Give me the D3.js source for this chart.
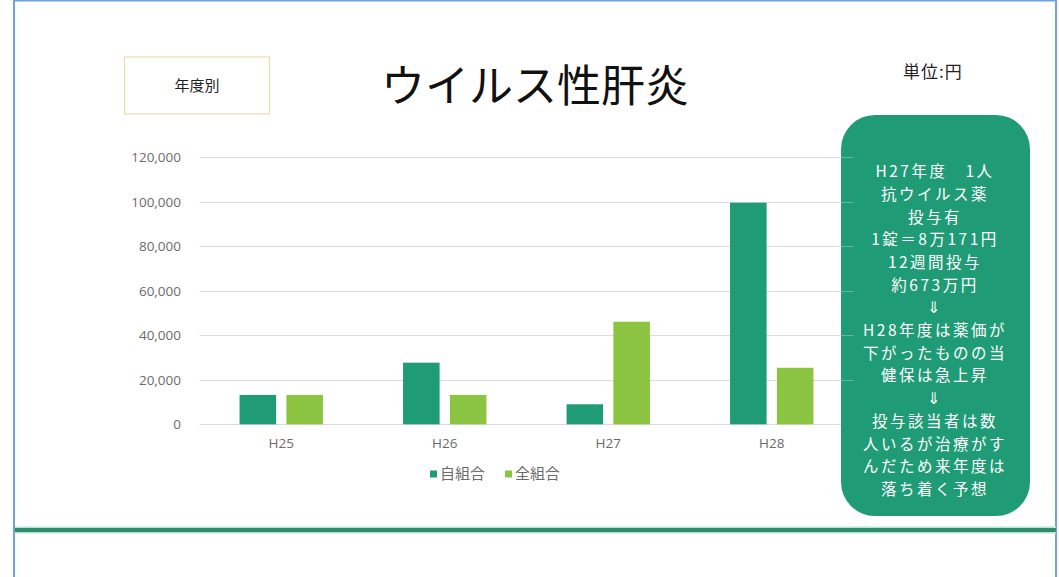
<!DOCTYPE html>
<html lang="ja">
<head>
<meta charset="utf-8">
<script src="https://cdn.jsdelivr.net/npm/d3@7"></script>
<style>
  html, body { margin: 0; padding: 0; background: #ffffff; }
  svg { display: block; }
</style>
</head>
<body>
<svg id="chart" width="1059" height="577"></svg>
<script>
// Fiscal years and per-person medical cost for viral hepatitis (yen)
const years = ["H25", "H26", "H27", "H28"];
const ownUnion = [13200, 27700, 9000, 99600];   // 自組合
const allUnions = [13200, 13200, 46100, 25400]; // 全組合
const seriesNames = ["自組合", "全組合"];
const yTicks = [0, 20000, 40000, 60000, 80000, 100000, 120000];
const noteLines = [
  "H27年度　1人",
  "抗ウイルス薬",
  "投与有",
  "1錠＝8万171円",
  "12週間投与",
  "約673万円",
  "⇓",
  "H28年度は薬価が",
  "下がったものの当",
  "健保は急上昇",
  "⇓",
  "投与該当者は数",
  "人いるが治療がす",
  "んだため来年度は",
  "落ち着く予想"
];

const colors = { "自組合": "#1f9b76", "全組合": "#8bc440" };
const jpFont = "'Noto Sans CJK JP', 'Noto Sans', sans-serif";
const numFont = "'Open Sans', 'Noto Sans', 'DejaVu Sans', sans-serif";

const svg = d3.select("#chart");

// Slide frame
svg.append("rect")
  .attr("x", 14).attr("y", 0.5).attr("width", 1042).attr("height", 590)
  .attr("fill", "none").attr("stroke", "#6ea3e0").attr("stroke-width", 2);

// Horizontal green rule
svg.append("rect").attr("x", 15).attr("y", 526.5).attr("width", 1041).attr("height", 7).attr("fill", "#b7e3d2");
svg.append("rect").attr("x", 15).attr("y", 528).attr("width", 1041).attr("height", 4).attr("fill", "#2f8d6f");

// Plot area
const plot = { left: 199.5, right: 853.5, top: 157.3, bottom: 424.3 };

const x0 = d3.scaleBand().domain(years).range([plot.left, plot.right]).paddingInner(0.49).paddingOuter(0.245);
const x1 = d3.scaleBand().domain(seriesNames).range([0, x0.bandwidth()]).paddingInner(0.22);
const y = d3.scaleLinear().domain([0, 120000]).range([plot.bottom, plot.top]);

// Gridlines
const grid = svg.append("g");
grid.selectAll("line").data(yTicks).join("line")
  .attr("x1", plot.left).attr("x2", plot.right)
  .attr("y1", d => Math.round(y(d)) + 0.5).attr("y2", d => Math.round(y(d)) + 0.5)
  .attr("stroke", "#dcdcdc").attr("stroke-width", 1);

// Y axis labels
const yAxis = d3.axisLeft(y).tickValues(yTicks).tickFormat(d3.format(",")).tickSize(0).tickPadding(0);
const yg = svg.append("g").attr("transform", `translate(${181},0)`).call(yAxis);
yg.select(".domain").remove();
yg.selectAll("text").attr("font-family", numFont).attr("font-size", 13.5).attr("fill", "#6b6b6b");

// X axis labels
const xAxis = d3.axisBottom(x0).tickSize(0).tickPadding(0);
const xg = svg.append("g").attr("transform", `translate(0,${438})`).call(xAxis);
xg.select(".domain").remove();
xg.selectAll("text").attr("font-family", numFont).attr("font-size", 13.5).attr("fill", "#6b6b6b");

// Bars
const rows = years.map((yr, i) => ({ year: yr, values: [
  { name: seriesNames[0], value: ownUnion[i] },
  { name: seriesNames[1], value: allUnions[i] }
]}));
const groups = svg.append("g").selectAll("g").data(rows).join("g")
  .attr("transform", d => `translate(${x0(d.year)},0)`);
groups.selectAll("rect").data(d => d.values).join("rect")
  .attr("x", d => x1(d.name))
  .attr("width", x1.bandwidth())
  .attr("y", d => y(d.value))
  .attr("height", d => y(0) - y(d.value))
  .attr("fill", d => colors[d.name]);

// Legend
const legend = svg.append("g").attr("transform", "translate(430,474)");
const legendX = [0, 75];
seriesNames.forEach((name, i) => {
  const g = legend.append("g").attr("transform", `translate(${legendX[i]},0)`);
  g.append("rect").attr("x", 0).attr("y", -3.5).attr("width", 7).attr("height", 7).attr("fill", colors[name]);
  g.append("text").attr("x", 10).attr("y", 0).attr("dy", "0.35em")
    .attr("font-family", jpFont).attr("font-size", 15).attr("fill", "#6b6b6b").text(name);
});

// Title
svg.append("text").attr("x", 535).attr("y", 87).attr("dy", "0.35em").attr("text-anchor", "middle")
  .attr("font-family", jpFont).attr("font-size", 44).attr("fill", "#111").text("ウイルス性肝炎");

// Category tag
svg.append("rect").attr("x", 124.5).attr("y", 57).attr("width", 145).attr("height", 57)
  .attr("fill", "#fff").attr("stroke", "#e9dcae").attr("stroke-width", 1.2);
svg.append("text").attr("x", 197).attr("y", 86).attr("dy", "0.35em").attr("text-anchor", "middle")
  .attr("font-family", jpFont).attr("font-size", 15).attr("fill", "#222").text("年度別");

// Unit
svg.append("text").attr("x", 903).attr("y", 72).attr("dy", "0.35em")
  .attr("font-family", jpFont).attr("font-size", 17).attr("letter-spacing", 1).attr("fill", "#222").text("単位:円");

// Note box
svg.append("rect").attr("x", 841).attr("y", 115).attr("width", 189).attr("height", 401)
  .attr("rx", 34).attr("ry", 34).attr("fill", "#1f9b76");

// Gridlines faintly visible over the note box edge
svg.append("g").selectAll("line").data(yTicks.filter(d => d > 0)).join("line")
  .attr("x1", 841).attr("x2", plot.right)
  .attr("y1", d => Math.round(y(d)) + 0.5).attr("y2", d => Math.round(y(d)) + 0.5)
  .attr("stroke", "#ffffff").attr("stroke-opacity", 0.3).attr("stroke-width", 1);

const note = svg.append("g");
const lineStep = 22.7;
note.selectAll("text").data(noteLines).join("text")
  .attr("x", 935).attr("y", (d, i) => 171.7 + i * lineStep).attr("dy", "0.35em")
  .attr("text-anchor", "middle").attr("font-family", jpFont).attr("font-size", 15.5)
  .attr("letter-spacing", 2.5)
  .attr("fill", "#ffffff").text(d => d);
</script>
</body>
</html>
